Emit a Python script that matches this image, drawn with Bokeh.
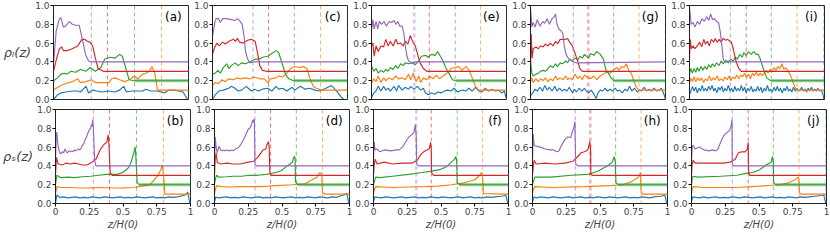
from bokeh.plotting import figure
from bokeh.layouts import column, row
from bokeh.models import Range1d, FixedTicker, Span, Label, NumeralTickFormatter
from bokeh.embed import file_html
from bokeh.resources import INLINE

BLUE, ORANGE, GREEN, RED, PURPLE = "#1f77b4", "#ff7f0e", "#2ca02c", "#d62728", "#9467bd"

X_TICKS = [0, 0.25, 0.5, 0.75, 1]
Y_TICKS = [0, 0.2, 0.4, 0.6, 0.8, 1.0]
TAGS_TOP = ["(a)", "(c)", "(e)", "(g)", "(i)"]
TAGS_BOT = ["(b)", "(d)", "(f)", "(h)", "(j)"]
YLABELS = ["ρₗ(z)", "ρₛ(z)"]
XLABEL = "z/H(0)"

# ---------------- panel (a) ----------------
a_pu_x = [0, .02, .044, .055, .073, .09, .116, .14, .165, .19, .20, .22, .237, .26, .28, 1]
a_pu_y = [.38, .73, .86, .87, .77, .78, .83, .80, .79, .79, .73, .60, .48, .41, .40, .40]
a_re_x = [0, .02, .044, .06, .073, .10, .14, .18, .21, .23, .25, .27, .29, .31, .33, .37, 1]
a_re_y = [.30, .42, .54, .56, .52, .52, .54, .57, .64, .64, .62, .61, .57, .44, .33, .30, .30]
a_gr_x = [0, .03, .055, .08, .10, .13, .165, .20, .24, .27, .31, .35, .38, .42, .455, .49, .51, .54, .56, .60, 1]
a_gr_y = [.20, .23, .27, .28, .27, .30, .29, .32, .30, .34, .30, .34, .43, .45, .44, .48, .46, .31, .21, .20, .20]
a_or_x = [0, .044, .09, .14, .18, .20, .24, .28, .31, .36, .41, .43, .455, .49, .53, .56, .60, .625, .66, .685, .71, .73, .75, .77, 1]
a_or_y = [.10, .14, .17, .19, .22, .18, .19, .21, .18, .18, .18, .22, .23, .21, .19, .21, .25, .22, .27, .28, .30, .35, .28, .10, .10]
a_bl_x = [0, .03, .055, .09, .14, .18, .20, .24, .26, .29, .32, .36, .41, .455, .49, .52, .54, .58, .625, .66, .685, .72, .77, .82, .855, .89, .93, .96, .98, .995]
a_bl_y = [0, .05, .07, .08, .09, .09, .08, .14, .07, .10, .09, .08, .09, .08, .10, .14, .08, .09, .09, .09, .11, .09, .09, .07, .10, .10, .09, .08, .03, 0]
a_fr = [0.28, 0.40, 0.60, 0.80, 1.0]

# ---------------- panel (c) ----------------
c_pu_x = [0, .017, .027, .046, .058, .075, .106, .14, .167, .186, .20, .22, .234, .244, .26, .275, .30, 1]
c_pu_y = [.67, .82, .86, .86, .82, .86, .86, .85, .84, .86, .84, .80, .67, .52, .43, .39, .40, .40]
c_re_x = [0, .017, .034, .05, .075, .094, .123, .155, .17, .186, .20, .227, .26, .287, .316, .336, .35, .37, .40, 1]
c_re_y = [.48, .56, .60, .57, .61, .59, .62, .64, .62, .65, .61, .60, .63, .64, .62, .48, .36, .31, .30, .30]
c_gr_x = [0, .02, .04, .058, .08, .106, .12, .14, .167, .19, .215, .24, .26, .29, .316, .35, .37, .41, .44, .47, .49, .51, .54, .565, .60, 1]
c_gr_y = [.27, .28, .31, .28, .34, .38, .33, .36, .39, .36, .39, .38, .39, .41, .43, .43, .45, .46, .49, .52, .50, .41, .27, .22, .20, .20]
c_or_x = [0, .02, .046, .07, .094, .12, .155, .18, .21, .24, .275, .31, .35, .384, .41, .43, .47, .49, .52, .55, .58, .61, .65, .67, .70, .72, .746, .77, .81, 1]
c_or_y = [.15, .18, .17, .21, .19, .22, .21, .23, .22, .23, .22, .24, .22, .22, .18, .22, .23, .25, .24, .28, .33, .35, .34, .35, .33, .23, .14, .12, .10, .10]
c_bl_x = [0, .02, .046, .08, .12, .14, .167, .19, .215, .25, .287, .31, .34, .37, .41, .44, .47, .49, .52, .55, .59, .61, .65, .686, .72, .76, .795, .84, .88, .90, .93, .95, .975]
c_bl_y = [0, .05, .09, .10, .12, .14, .12, .09, .10, .14, .09, .11, .09, .11, .12, .09, .14, .11, .12, .09, .13, .10, .14, .11, .12, .10, .09, .12, .15, .12, .07, .03, 0]
c_fr = [0.30, 0.415, 0.606, 0.80, 1.0]

# ---------------- panel (e) ----------------
e_pu_x = [0, .01, .02, .034, .046, .058, .075, .094, .11, .13, .147, .167, .18, .196, .21, .227, .24, .25, .263, .275, .30, .32, 1]
e_pu_y = [.73, .85, .75, .83, .75, .83, .80, .83, .78, .83, .82, .84, .80, .83, .78, .78, .70, .57, .46, .41, .39, .40, .40]
e_re_x = [0, .01, .02, .034, .05, .07, .09, .106, .123, .14, .16, .18, .196, .215, .234, .25, .27, .287, .31, .324, .34, .36, .384, .41, .43, 1]
e_re_y = [.57, .60, .46, .57, .51, .57, .56, .64, .57, .62, .57, .64, .59, .60, .57, .62, .59, .68, .60, .57, .49, .39, .33, .30, .30, .30]
e_gr_x = [0, .017, .034, .05, .07, .09, .106, .123, .14, .16, .18, .196, .215, .234, .25, .275, .30, .324, .35, .37, .40, .42, .444, .47, .49, .51, .53, .553, .577, .60, .626, 1]
e_gr_y = [.36, .30, .33, .28, .31, .29, .32, .30, .34, .32, .36, .33, .38, .36, .39, .38, .39, .37, .41, .46, .47, .45, .48, .47, .51, .46, .41, .33, .27, .21, .20, .20]
e_or_x = [0, .017, .034, .05, .07, .09, .106, .13, .155, .18, .20, .227, .25, .275, .29, .31, .33, .35, .365, .384, .41, .43, .456, .48, .505, .53, .56, .59, .62, .645, .67, .70, .72, .746, .77, .795, 1]
e_or_y = [.17, .22, .19, .25, .18, .23, .20, .23, .21, .25, .22, .23, .21, .27, .21, .28, .19, .25, .18, .23, .21, .25, .22, .26, .22, .25, .28, .33, .34, .35, .31, .35, .32, .23, .14, .10, .10]
e_bl_x = [0, .017, .034, .05, .07, .09, .106, .123, .14, .167, .186, .20, .227, .25, .275, .29, .316, .34, .365, .384, .40, .42, .444, .47, .49, .517, .54, .565, .59, .61, .64, .67, .70, .72, .746, .77, .795, .82, .84, .867, .89, .915, .94, .964, .985, .995]
e_bl_y = [.02, .07, .09, .14, .09, .14, .10, .12, .09, .14, .09, .15, .10, .13, .11, .14, .11, .14, .10, .12, .07, .05, .07, .055, .08, .07, .09, .10, .09, .12, .08, .10, .09, .12, .09, .13, .09, .08, .12, .09, .11, .09, .10, .07, .09, .02]
e_fr = [0.317, 0.428, 0.62, 0.807, 1.0]

# ---------------- panel (g) ----------------
g_pu_x = [0, .01, .02, .034, .05, .07, .09, .106, .123, .14, .16, .176, .186, .196, .21, .227, .24, .25, .263, .283, .307, .336, 1]
g_pu_y = [.98, .77, .82, .77, .85, .78, .83, .81, .86, .80, .86, .88, .91, .80, .75, .73, .70, .57, .48, .43, .41, .39, .40]
g_re_x = [0, .005, .012, .02, .04, .058, .075, .094, .11, .13, .147, .167, .186, .20, .22, .24, .26, .275, .29, .31, .33, .35, .365, .384, 1]
g_re_y = [.35, .70, .44, .54, .56, .54, .57, .56, .59, .57, .60, .57, .62, .59, .64, .64, .64, .65, .61, .57, .49, .41, .33, .30, .30]
g_gr_x = [0, .01, .02, .04, .058, .075, .094, .11, .13, .147, .167, .186, .20, .22, .24, .26, .275, .29, .31, .33, .35, .365, .384, .40, .43, .444, .47, .49, .517, .54, .56, .577, .597, .616, 1]
g_gr_y = [.41, .28, .25, .27, .28, .30, .31, .30, .33, .36, .34, .38, .35, .39, .38, .41, .39, .43, .41, .44, .42, .46, .44, .48, .44, .49, .47, .51, .48, .43, .31, .28, .23, .20, .20]
g_or_x = [0, .01, .02, .04, .058, .075, .094, .11, .13, .147, .167, .186, .20, .22, .24, .26, .275, .29, .31, .33, .35, .365, .384, .40, .43, .444, .47, .49, .517, .54, .565, .59, .61, .64, .655, .674, .693, .71, .727, .746, .766, .78, .80, 1]
g_or_y = [.18, .23, .18, .22, .19, .22, .20, .23, .19, .22, .20, .25, .21, .23, .21, .25, .21, .23, .21, .27, .22, .25, .21, .26, .23, .22, .25, .21, .25, .27, .29, .28, .31, .34, .31, .35, .34, .38, .31, .28, .20, .14, .10, .10]
g_bl_x = [0, .017, .034, .05, .07, .09, .106, .123, .14, .16, .18, .196, .215, .234, .25, .27, .287, .31, .324, .34, .36, .38, .40, .413, .43, .45, .47, .486, .50, .517, .534, .553, .57, .59, .606, .626, .645, .66, .68, .70, .717, .734, .75, .77, .79, .807, .82, .843, .86, .88, .896, .915, .935, .95, .97, .99, 1.0]
g_bl_y = [.04, .07, .11, .09, .13, .09, .15, .10, .13, .09, .14, .09, .12, .09, .11, .09, .13, .07, .11, .08, .12, .09, .12, .09, .07, .10, .055, .01, .07, .10, .09, .12, .09, .11, .09, .12, .09, .10, .07, .11, .09, .14, .09, .12, .08, .10, .09, .13, .09, .11, .09, .12, .09, .10, .12, .05, 0]
g_fr = [0.317, 0.428, 0.616, 0.804, 1.0]

# ---------------- panel (i) ----------------
i_pu_x = [0, .012, .027, .04, .058, .075, .094, .11, .128, .142, .157, .17, .186, .20, .215, .227, .24, .25, .263, .287, .31, 1]
i_pu_y = [.99, .80, .82, .77, .83, .80, .86, .83, .88, .84, .91, .85, .86, .83, .82, .73, .57, .43, .39, .41, .40, .40]
i_re_x = [0, .005, .014, .027, .04, .058, .075, .09, .106, .118, .133, .147, .162, .18, .19, .205, .22, .234, .25, .268, .283, .30, .31, .324, .336, .348, .365, .384, 1]
i_re_y = [.44, .64, .54, .57, .54, .57, .61, .56, .64, .59, .62, .57, .64, .61, .65, .61, .64, .61, .65, .63, .64, .62, .61, .54, .46, .39, .33, .30, .30]
i_gr_x = [0, .01, .022, .034, .046, .058, .07, .085, .10, .113, .128, .142, .157, .17, .186, .20, .22, .234, .25, .268, .287, .307, .324, .34, .355, .372, .39, .403, .42, .437, .457, .476, .493, .51, .524, .54, .553, .572, .59, .606, 1]
i_gr_y = [.27, .33, .28, .33, .29, .34, .30, .35, .31, .35, .32, .37, .34, .38, .35, .39, .36, .41, .38, .42, .39, .43, .41, .45, .43, .48, .45, .50, .47, .51, .48, .51, .48, .48, .43, .36, .30, .23, .21, .20, .20]
i_or_x = [0, .01, .022, .034, .046, .06, .075, .09, .104, .118, .133, .147, .162, .176, .19, .205, .22, .234, .25, .263, .278, .292, .307, .32, .336, .35, .365, .38, .394, .408, .423, .437, .452, .466, .48, .495, .51, .524, .539, .553, .568, .582, .597, .61, .626, .64, .655, .67, .684, .70, .713, .727, .74, .756, .77, .785, .80, 1]
i_or_y = [.17, .23, .19, .24, .19, .23, .20, .23, .18, .22, .20, .25, .20, .23, .21, .25, .20, .22, .20, .24, .21, .25, .20, .24, .22, .26, .22, .26, .24, .28, .24, .27, .22, .28, .25, .29, .25, .28, .25, .28, .31, .28, .32, .29, .34, .31, .35, .33, .38, .32, .34, .31, .28, .23, .17, .12, .10, .10]
i_bl_x = [0, .01, .022, .034, .046, .058, .07, .082, .094, .106, .118, .13, .142, .155, .167, .18, .19, .203, .215, .227, .24, .25, .263, .275, .287, .30, .31, .324, .336, .348, .36, .372, .384, .396, .408, .42, .432, .444, .457, .47, .48, .493, .505, .517, .53, .54, .553, .565, .577, .59, .60, .613, .626, .638, .65, .662, .674, .686, .70, .71, .722, .734, .746, .758, .77, .783, .795, .807, .82, .83, .843, .855, .867, .88, .89, .903, .915, .928, .94, .95, .964, .976, .99, .995]
i_bl_y = [.05, .09, .14, .09, .13, .07, .12, .09, .15, .09, .12, .09, .14, .10, .15, .09, .12, .07, .13, .10, .14, .08, .12, .09, .15, .09, .12, .08, .14, .09, .12, .09, .15, .09, .13, .07, .12, .09, .14, .08, .11, .09, .14, .09, .13, .07, .12, .09, .15, .09, .11, .08, .13, .09, .14, .09, .12, .07, .12, .09, .14, .09, .11, .08, .13, .09, .12, .09, .10, .13, .09, .11, .08, .12, .09, .13, .09, .11, .09, .12, .09, .10, .05, 0]
i_fr = [0.302, 0.42, 0.606, 0.797, 1.0]

# ---------------- bottom row ----------------
bot_bl_x = [0, .01, .03, .06, .09, .12, .15, .18, .21, .24, .27, .30, .33, .36, .39, .42, .45, .48, .51, .54, .57, .60, .63, .66, .69, .72, .75, .78, .81, .84, .87, .90, .93, .96, .98, .995]

b_pu_x = [0, .005, .01, .017, .03, .04, .05, .06, .07, .08, .09, .10, .11, .12, .13, .14, .15, .16, .17, .18, .19, .20, .21, .22, .23, .24, .25, .26, .265, .27, .275, .28, .29, .30, 1]
b_pu_y = [.45, .70, .76, .63, .54, .53, .55, .54, .58, .55, .54, .56, .55, .56, .55, .57, .56, .57, .58, .57, .59, .62, .64, .68, .71, .75, .78, .80, .84, .82, .89, .82, .46, .40, .40]
b_re_x = [0, .007, .02, .05, .08, .11, .14, .17, .20, .235, .27, .30, .33, .36, .38, .39, .395, .405, .42, 1]
b_re_y = [.30, .49, .42, .41, .43, .42, .43, .42, .41, .41, .44, .47, .57, .63, .65, .73, .66, .33, .30, .30]
b_gr_x = [0, .01, .04, .09, .14, .20, .26, .32, .38, .455, .50, .54, .56, .58, .59, .595, .605, .62, 1]
b_gr_y = [.20, .30, .275, .28, .275, .285, .29, .30, .31, .31, .33, .38, .44, .54, .60, .50, .22, .20, .20]
b_or_x = [0, .01, .04, .10, .18, .26, .34, .42, .50, .58, .62, .66, .70, .73, .76, .78, .79, .80, .81, 1]
b_or_y = [.10, .18, .17, .17, .165, .166, .17, .165, .166, .17, .18, .19, .20, .25, .30, .36, .41, .31, .10, .10]
b_bl_y = [0, .09, .065, .07, .06, .065, .07, .06, .065, .06, .07, .065, .06, .07, .065, .06, .065, .07, .06, .065, .06, .07, .065, .06, .065, .07, .06, .065, .06, .07, .065, .07, .08, .09, .12, 0]

d_pu_x = [0, .005, .012, .02, .034, .046, .06, .07, .08, .094, .11, .13, .14, .155, .17, .18, .196, .215, .234, .25, .26, .27, .283, .29, .295, .30, .31, 1]
d_pu_y = [.45, .71, .60, .54, .61, .57, .56, .57, .56, .57, .56, .57, .56, .58, .59, .60, .63, .68, .74, .79, .80, .82, .89, .86, .90, .42, .40, .40]
d_re_x = [0, .005, .012, .02, .046, .094, .14, .19, .25, .29, .32, .35, .36, .38, .39, .40, .405, .41, .42, 1]
d_re_y = [.30, .47, .54, .44, .42, .43, .42, .42, .44, .45, .49, .55, .57, .58, .63, .66, .60, .33, .30, .30]
d_gr_x = [0, .005, .015, .034, .09, .14, .20, .26, .32, .384, .456, .49, .53, .56, .577, .59, .597, .60, .616, 1]
d_gr_y = [.20, .25, .30, .28, .285, .29, .29, .30, .30, .31, .33, .345, .39, .42, .44, .50, .49, .23, .20, .20]
d_or_x = [0, .005, .015, .046, .12, .20, .26, .34, .40, .456, .52, .577, .62, .67, .72, .76, .78, .795, .80, .816, 1]
d_or_y = [.10, .14, .19, .18, .175, .18, .18, .18, .185, .19, .195, .20, .205, .21, .25, .28, .33, .31, .115, .10, .10]
d_bl_y = [.02, .07, .06, .065, .07, .06, .065, .06, .07, .065, .06, .065, .07, .06, .065, .06, .07, .065, .06, .065, .07, .06, .065, .06, .07, .065, .06, .07, .065, .06, .07, .065, .08, .09, .11, 0]

f_pu_x = [0, .005, .012, .027, .046, .08, .13, .167, .19, .215, .24, .263, .283, .30, .31, .316, .32, .336, 1]
f_pu_y = [.45, .66, .57, .58, .55, .57, .56, .57, .57, .60, .66, .71, .73, .76, .84, .73, .42, .40, .40]
f_re_x = [0, .005, .012, .027, .08, .14, .215, .287, .324, .35, .372, .396, .413, .423, .428, .43, .444, 1]
f_re_y = [.30, .41, .47, .42, .44, .42, .43, .43, .46, .52, .55, .57, .58, .65, .57, .33, .30, .30]
f_gr_x = [0, .005, .017, .046, .14, .26, .36, .43, .49, .54, .577, .60, .61, .616, .62, .638, 1]
f_gr_y = [.20, .23, .28, .275, .29, .31, .33, .345, .36, .39, .44, .47, .50, .46, .22, .20, .20]
f_or_x = [0, .005, .017, .14, .26, .384, .48, .577, .67, .746, .78, .80, .81, .814, 1]
f_or_y = [.10, .14, .18, .17, .175, .18, .185, .20, .22, .25, .29, .33, .25, .105, .10]
f_bl_y = [.02, .07, .065, .06, .07, .065, .06, .065, .07, .06, .065, .07, .06, .065, .06, .07, .065, .06, .07, .065, .06, .065, .07, .06, .065, .07, .06, .065, .06, .07, .065, .07, .075, .08, .09, 0]

h_pu_x = [0, .005, .012, .027, .058, .094, .13, .155, .18, .196, .215, .24, .263, .283, .29, .307, .314, .32, .336, 1]
h_pu_y = [.45, .74, .62, .61, .60, .58, .57, .57, .55, .56, .62, .68, .71, .70, .74, .81, .87, .42, .40, .40]
h_re_x = [0, .005, .012, .027, .094, .167, .24, .30, .336, .36, .384, .41, .42, .425, .43, .432, .444, 1]
h_re_y = [.30, .38, .46, .42, .43, .42, .43, .45, .50, .54, .55, .57, .63, .66, .57, .31, .30, .30]
h_gr_x = [0, .005, .017, .14, .287, .41, .48, .53, .565, .59, .606, .613, .618, .638, 1]
h_gr_y = [.20, .23, .28, .28, .30, .31, .34, .38, .41, .44, .50, .44, .22, .20, .20]
h_or_x = [0, .005, .017, .14, .384, .577, .67, .73, .77, .79, .80, .805, .816, 1]
h_or_y = [.10, .14, .18, .17, .18, .19, .20, .23, .265, .29, .33, .12, .10, .10]
h_bl_y = [.02, .07, .06, .07, .065, .06, .07, .065, .06, .065, .07, .06, .065, .07, .06, .065, .06, .07, .065, .06, .07, .065, .06, .065, .07, .06, .065, .06, .07, .065, .06, .07, .075, .08, .09, 0]

j_pu_x = [0, .005, .012, .027, .058, .094, .13, .155, .18, .196, .215, .234, .25, .268, .283, .292, .30, .302, .31, 1]
j_pu_y = [.45, .60, .62, .58, .60, .57, .56, .57, .56, .58, .65, .71, .74, .76, .78, .82, .89, .42, .40, .40]
j_re_x = [0, .005, .012, .027, .094, .167, .24, .287, .324, .348, .372, .396, .413, .42, .423, .432, 1]
j_re_y = [.30, .42, .46, .43, .43, .43, .43, .44, .47, .54, .55, .55, .575, .65, .33, .30, .30]
j_gr_x = [0, .005, .012, .046, .215, .336, .408, .457, .505, .553, .59, .60, .606, .608, .626, 1]
j_gr_y = [.20, .265, .29, .28, .29, .30, .32, .33, .36, .41, .44, .50, .44, .22, .20, .20]
j_or_x = [0, .005, .012, .094, .336, .505, .65, .72, .77, .79, .795, .80, .81, 1]
j_or_y = [.10, .15, .18, .17, .17, .185, .20, .22, .255, .28, .27, .115, .10, .10]
j_bl_y = [.02, .07, .065, .06, .07, .06, .065, .07, .06, .065, .06, .07, .065, .06, .07, .065, .06, .065, .07, .06, .065, .07, .06, .065, .06, .07, .065, .06, .07, .065, .07, .075, .08, .085, .09, 0]

TOP = [
    [(a_bl_x, a_bl_y), (a_or_x, a_or_y), (a_gr_x, a_gr_y), (a_re_x, a_re_y), (a_pu_x, a_pu_y), a_fr],
    [(c_bl_x, c_bl_y), (c_or_x, c_or_y), (c_gr_x, c_gr_y), (c_re_x, c_re_y), (c_pu_x, c_pu_y), c_fr],
    [(e_bl_x, e_bl_y), (e_or_x, e_or_y), (e_gr_x, e_gr_y), (e_re_x, e_re_y), (e_pu_x, e_pu_y), e_fr],
    [(g_bl_x, g_bl_y), (g_or_x, g_or_y), (g_gr_x, g_gr_y), (g_re_x, g_re_y), (g_pu_x, g_pu_y), g_fr],
    [(i_bl_x, i_bl_y), (i_or_x, i_or_y), (i_gr_x, i_gr_y), (i_re_x, i_re_y), (i_pu_x, i_pu_y), i_fr],
]
BOT = [
    [(bot_bl_x, b_bl_y), (b_or_x, b_or_y), (b_gr_x, b_gr_y), (b_re_x, b_re_y), (b_pu_x, b_pu_y), a_fr],
    [(bot_bl_x, d_bl_y), (d_or_x, d_or_y), (d_gr_x, d_gr_y), (d_re_x, d_re_y), (d_pu_x, d_pu_y), c_fr],
    [(bot_bl_x, f_bl_y), (f_or_x, f_or_y), (f_gr_x, f_gr_y), (f_re_x, f_re_y), (f_pu_x, f_pu_y), e_fr],
    [(bot_bl_x, h_bl_y), (h_or_x, h_or_y), (h_gr_x, h_gr_y), (h_re_x, h_re_y), (h_pu_x, h_pu_y), g_fr],
    [(bot_bl_x, j_bl_y), (j_or_x, j_or_y), (j_gr_x, j_gr_y), (j_re_x, j_re_y), (j_pu_x, j_pu_y), i_fr],
]

CURVE_COLORS = [BLUE, ORANGE, GREEN, RED, PURPLE]
FRONT_COLORS = [PURPLE, RED, GREEN, ORANGE, BLUE]
THICK_FRONT = {2: 0, 3: 1, 4: 4}

FONT = "DejaVu Sans"
FW, FH = 135, 94


def panel(spec, tag, top, col):
    p = figure(
        frame_width=FW, frame_height=FH,
        x_range=Range1d(0, 1), y_range=Range1d(0, 1),
        output_backend="svg", toolbar_location=None, tools="",
        x_axis_location=None if top else "below",
        min_border_left=48 if col == 0 else 19,
        min_border_right=3,
        min_border_top=5,
        min_border_bottom=5 if top else 29,
        background_fill_color="white", border_fill_color="white",
    )
    p.grid.visible = False
    p.outline_line_color = "#222222"
    p.outline_line_width = 1

    *curves, fronts = spec
    for k, loc in enumerate(fronts):
        w, a = (2.6, 0.35) if THICK_FRONT.get(col) == k else (1.0, 0.6)
        p.add_layout(Span(location=loc, dimension="height", line_color=FRONT_COLORS[k],
                          line_dash="4 3", line_width=w, line_alpha=a))

    for (xs, ys), c in zip(curves, CURVE_COLORS):
        n = min(len(xs), len(ys))
        xs, ys = xs[:n], ys[:n]
        if c == GREEN:
            p.line(xs[-2:], ys[-2:], line_color=GREEN, line_width=3.2, line_alpha=0.45)
        p.line(xs, ys, line_color=c, line_width=1.15)

    ya = p.yaxis[0]
    ya.ticker = FixedTicker(ticks=Y_TICKS)
    ya.formatter = NumeralTickFormatter(format="0.0")
    ya.major_label_text_font = FONT
    ya.major_label_text_font_size = "9px"
    ya.major_label_standoff = 1
    ya.major_tick_out = 3
    ya.major_tick_in = 0
    ya.minor_tick_out = 0
    ya.minor_tick_in = 0
    ya.axis_line_color = "#222222"
    if col == 0:
        ya.axis_label = YLABELS[0] if top else YLABELS[1]
        ya.axis_label_orientation = "horizontal"
        ya.axis_label_text_font = FONT
        ya.axis_label_text_font_style = "italic"
        ya.axis_label_text_font_size = "13px"
        ya.axis_label_standoff = 1

    if not top:
        xa = p.xaxis[0]
        xa.ticker = FixedTicker(ticks=X_TICKS)
        xa.formatter = NumeralTickFormatter(format="0.[00]")
        xa.major_label_text_font = FONT
        xa.major_label_text_font_size = "9px"
        xa.major_label_standoff = 1
        xa.major_tick_out = 3
        xa.major_tick_in = 0
        xa.minor_tick_out = 0
        xa.minor_tick_in = 0
        xa.axis_line_color = "#222222"
        xa.axis_label = XLABEL
        xa.axis_label_text_font = FONT
        xa.axis_label_text_font_style = "italic"
        xa.axis_label_text_font_size = "10px"
        xa.axis_label_standoff = 1

    p.add_layout(Label(x=0.95, y=0.955, text=tag, text_align="right", text_baseline="top",
                       text_font=FONT, text_font_size="12px", text_color="black"))
    return p


top_row = row(*[panel(TOP[i], TAGS_TOP[i], True, i) for i in range(5)])
bot_row = row(*[panel(BOT[i], TAGS_BOT[i], False, i) for i in range(5)])
layout = column(top_row, bot_row)

open("out.html", "w").write(file_html(layout, INLINE))
